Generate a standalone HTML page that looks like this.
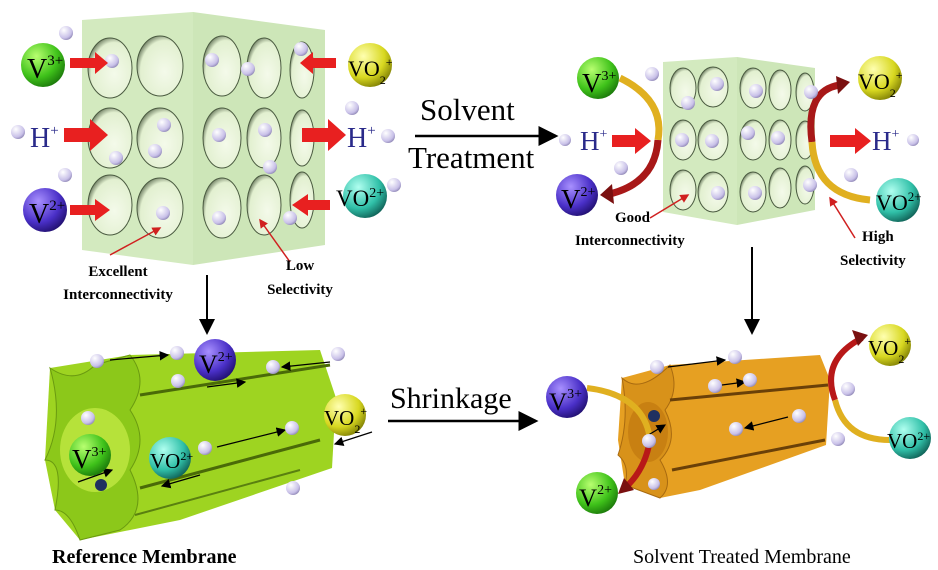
<!DOCTYPE html><html><head><style>body{margin:0;background:#fff}svg{display:block}</style></head><body>
<svg width="938" height="570" viewBox="0 0 938 570" xmlns="http://www.w3.org/2000/svg" font-family="Liberation Serif, serif">
<defs>
<radialGradient id="g" cx=".35" cy=".3" r=".8"><stop offset="0" stop-color="#b8ff70"/><stop offset=".6" stop-color="#3fc21a"/><stop offset="1" stop-color="#156b08"/></radialGradient>
<radialGradient id="y" cx=".35" cy=".3" r=".8"><stop offset="0" stop-color="#ffffb0"/><stop offset=".6" stop-color="#d8d820"/><stop offset="1" stop-color="#707000"/></radialGradient>
<radialGradient id="p" cx=".35" cy=".3" r=".8"><stop offset="0" stop-color="#a890ff"/><stop offset=".6" stop-color="#4a30c8"/><stop offset="1" stop-color="#1a0a60"/></radialGradient>
<radialGradient id="t" cx=".35" cy=".3" r=".8"><stop offset="0" stop-color="#b0fff0"/><stop offset=".6" stop-color="#30c0a8"/><stop offset="1" stop-color="#0a5048"/></radialGradient>
<radialGradient id="s" cx=".35" cy=".3" r=".8"><stop offset="0" stop-color="#ffffff"/><stop offset=".7" stop-color="#c8c0e8"/><stop offset="1" stop-color="#8078a8"/></radialGradient>
<radialGradient id="h" cx=".6" cy=".6" r=".7"><stop offset="0" stop-color="#f4faea"/><stop offset=".75" stop-color="#e2f0d0"/><stop offset="1" stop-color="#3a4a30"/></radialGradient>
<marker id="ah" markerWidth="8" markerHeight="8" refX="7" refY="4" orient="auto"><path d="M0,0 L8,4 L0,8 Z" fill="#000"/></marker>
<marker id="rh" markerWidth="6" markerHeight="6" refX="5" refY="3" orient="auto"><path d="M0,0 L6,3 L0,6 Z" fill="#d02020"/></marker>
</defs>

<!-- top-left cube -->
<polygon points="82,20 193,12 193,265 82,250" fill="#d3eabf"/>
<polygon points="193,12 325,30 325,245 193,265" fill="#cde6b8"/>
<g fill="url(#h)" stroke="#4a5a40" stroke-width="1">
<ellipse cx="110" cy="68" rx="22" ry="30"/><ellipse cx="160" cy="66" rx="23" ry="30"/>
<ellipse cx="110" cy="138" rx="22" ry="30"/><ellipse cx="160" cy="138" rx="23" ry="30"/>
<ellipse cx="110" cy="205" rx="22" ry="30"/><ellipse cx="160" cy="208" rx="23" ry="30"/>
<ellipse cx="222" cy="66" rx="19" ry="30"/><ellipse cx="264" cy="68" rx="17" ry="30"/><ellipse cx="302" cy="70" rx="12" ry="28"/>
<ellipse cx="222" cy="138" rx="19" ry="30"/><ellipse cx="264" cy="138" rx="17" ry="30"/><ellipse cx="302" cy="138" rx="12" ry="28"/>
<ellipse cx="222" cy="208" rx="19" ry="30"/><ellipse cx="264" cy="205" rx="17" ry="30"/><ellipse cx="302" cy="200" rx="12" ry="28"/>
</g>
<g fill="url(#s)">
<circle cx="66" cy="33" r="7"/><circle cx="112" cy="61" r="7"/><circle cx="212" cy="60" r="7"/><circle cx="248" cy="69" r="7"/><circle cx="301" cy="49" r="7"/>
<circle cx="18" cy="132" r="7"/><circle cx="164" cy="125" r="7"/><circle cx="155" cy="151" r="7"/><circle cx="116" cy="158" r="7"/><circle cx="219" cy="135" r="7"/><circle cx="265" cy="130" r="7"/><circle cx="352" cy="108" r="7"/><circle cx="388" cy="136" r="7"/>
<circle cx="65" cy="175" r="7"/><circle cx="270" cy="167" r="7"/><circle cx="163" cy="213" r="7"/><circle cx="219" cy="218" r="7"/><circle cx="290" cy="218" r="7"/><circle cx="394" cy="185" r="7"/>
</g>
<g fill="#e82020">
<polygon points="70,58 95,58 95,52 108,63 95,74 95,68 70,68"/>
<polygon points="336,58 313,58 313,52 300,63 313,74 313,68 336,68"/>
<polygon points="64,128 90,128 90,119 108,135 90,151 90,142 64,142"/>
<polygon points="302,128 328,128 328,119 346,135 328,151 328,142 302,142"/>
<polygon points="70,205 95,205 95,199 110,210 95,221 95,215 70,215"/>
<polygon points="330,200 308,200 308,194 292,205 308,216 308,210 330,210"/>
</g>
<line x1="110" y1="255" x2="160" y2="228" stroke="#d02020" stroke-width="1.5" marker-end="url(#rh)"/>
<line x1="290" y1="262" x2="260" y2="220" stroke="#d02020" stroke-width="1.5" marker-end="url(#rh)"/>
<circle cx="43" cy="65" r="22" fill="url(#g)"/><text x="27" y="78" font-size="28">V<tspan font-size="15" dy="-13">3+</tspan></text>
<circle cx="370" cy="65" r="22" fill="url(#y)"/><text x="348" y="76" font-size="22">VO<tspan font-size="12" dy="8">2</tspan><tspan font-size="12" dy="-18">+</tspan></text>
<circle cx="45" cy="210" r="22" fill="url(#p)"/><text x="29" y="223" font-size="28">V<tspan font-size="15" dy="-13">2+</tspan></text>
<circle cx="365" cy="196" r="22" fill="url(#t)"/><text x="336" y="206" font-size="23">VO<tspan font-size="14" dy="-9">2+</tspan></text>
<text x="30" y="147" font-size="28" fill="#2a2a8a">H<tspan font-size="15" dy="-12">+</tspan></text>
<text x="347" y="147" font-size="28" fill="#2a2a8a">H<tspan font-size="15" dy="-12">+</tspan></text>
<g font-size="15" font-weight="bold" text-anchor="middle"><text x="118" y="276">Excellent</text><text x="118" y="299">Interconnectivity</text><text x="300" y="270">Low</text><text x="300" y="294">Selectivity</text></g>
<line x1="207" y1="275" x2="207" y2="333" stroke="#000" stroke-width="2" marker-end="url(#ah)"/>

<!-- Solvent Treatment -->
<text x="420" y="120" font-size="31">Solvent</text>
<text x="408" y="168" font-size="31">Treatment</text>
<line x1="415" y1="136" x2="556" y2="136" stroke="#000" stroke-width="2.5" marker-end="url(#ah)"/>

<!-- top-right cube -->
<polygon points="663,62 737,57 737,225 663,212" fill="#d3eabf"/>
<polygon points="737,57 815,68 815,210 737,225" fill="#cde6b8"/>
<g fill="url(#h)" stroke="#4a5a40" stroke-width="1">
<ellipse cx="683" cy="88" rx="13" ry="20"/><ellipse cx="713" cy="87" rx="15" ry="20"/>
<ellipse cx="683" cy="140" rx="13" ry="20"/><ellipse cx="713" cy="140" rx="15" ry="20"/>
<ellipse cx="683" cy="190" rx="13" ry="20"/><ellipse cx="713" cy="192" rx="15" ry="20"/>
<ellipse cx="753" cy="88" rx="13" ry="20"/><ellipse cx="780" cy="90" rx="11" ry="20"/><ellipse cx="805" cy="92" rx="9" ry="19"/>
<ellipse cx="753" cy="140" rx="13" ry="20"/><ellipse cx="780" cy="140" rx="11" ry="20"/><ellipse cx="805" cy="140" rx="9" ry="19"/>
<ellipse cx="753" cy="192" rx="13" ry="20"/><ellipse cx="780" cy="188" rx="11" ry="20"/><ellipse cx="805" cy="185" rx="9" ry="19"/>
</g>
<path d="M620,78 Q665,100 658,140" fill="none" stroke="#e0b020" stroke-width="7"/>
<path d="M658,140 Q655,185 605,195" fill="none" stroke="#a81818" stroke-width="7"/>
<polygon points="600,195 612,184 614,204" fill="#7a1010"/>
<path d="M812,142 Q805,90 840,85" fill="none" stroke="#a81818" stroke-width="7"/>
<polygon points="850,82 836,76 838,94" fill="#7a1010"/>
<path d="M812,142 Q815,195 870,200" fill="none" stroke="#e0b020" stroke-width="7"/>
<g fill="url(#s)">
<circle cx="652" cy="74" r="7"/><circle cx="717" cy="84" r="7"/><circle cx="688" cy="103" r="7"/><circle cx="756" cy="91" r="7"/><circle cx="811" cy="92" r="7"/>
<circle cx="565" cy="140" r="6"/><circle cx="682" cy="140" r="7"/><circle cx="712" cy="141" r="7"/><circle cx="748" cy="133" r="7"/><circle cx="778" cy="138" r="7"/><circle cx="913" cy="140" r="6"/>
<circle cx="621" cy="168" r="7"/><circle cx="851" cy="175" r="7"/><circle cx="718" cy="193" r="7"/><circle cx="755" cy="193" r="7"/><circle cx="810" cy="185" r="7"/>
</g>
<g fill="#e82020">
<polygon points="612,135 635,135 635,128 651,141 635,154 635,147 612,147"/>
<polygon points="830,135 855,135 855,128 871,141 855,154 855,147 830,147"/>
</g>
<line x1="650" y1="218" x2="688" y2="195" stroke="#d02020" stroke-width="1.5" marker-end="url(#rh)"/>
<line x1="855" y1="238" x2="830" y2="198" stroke="#d02020" stroke-width="1.5" marker-end="url(#rh)"/>
<circle cx="598" cy="78" r="21" fill="url(#g)"/><text x="582" y="92" font-size="27">V<tspan font-size="14" dy="-12">3+</tspan></text>
<circle cx="577" cy="195" r="21" fill="url(#p)"/><text x="561" y="208" font-size="27">V<tspan font-size="14" dy="-12">2+</tspan></text>
<circle cx="880" cy="78" r="22" fill="url(#y)"/><text x="858" y="89" font-size="22">VO<tspan font-size="12" dy="8">2</tspan><tspan font-size="12" dy="-18">+</tspan></text>
<circle cx="898" cy="200" r="22" fill="url(#t)"/><text x="876" y="210" font-size="22">VO<tspan font-size="13" dy="-9">2+</tspan></text>
<text x="580" y="150" font-size="27" fill="#2a2a8a">H<tspan font-size="14" dy="-12">+</tspan></text>
<text x="872" y="150" font-size="27" fill="#2a2a8a">H<tspan font-size="14" dy="-12">+</tspan></text>
<g font-size="15" font-weight="bold"><text x="615" y="222">Good</text><text x="575" y="245">Interconnectivity</text><text x="862" y="241">High</text><text x="840" y="265">Selectivity</text></g>
<line x1="752" y1="247" x2="752" y2="333" stroke="#000" stroke-width="2" marker-end="url(#ah)"/>

<!-- bottom-left green cylinder -->
<polygon points="50,368 130,355 320,350 336,398 332,468 180,520 80,540 55,510 45,460" fill="#9ed421"/>
<path d="M50,368 Q75,385 95,365 L130,355 Q150,380 130,410 Q150,440 130,470 Q150,510 120,530 L80,540 Q70,510 55,510 Q65,460 45,460 Q65,420 50,368 Z" fill="#8cc81a" stroke="#6a9a10"/>
<ellipse cx="95" cy="450" rx="35" ry="42" fill="#b6e23a"/>
<path d="M140,395 L330,365" stroke="#4a6a08" stroke-width="3"/>
<path d="M140,488 L320,440" stroke="#4a6a08" stroke-width="3"/>
<path d="M135,515 L300,470" stroke="#5a8010" stroke-width="2"/>
<g stroke="#000" stroke-width="1.2">
<line x1="110" y1="360" x2="168" y2="355" marker-end="url(#ah)"/><line x1="330" y1="362" x2="282" y2="367" marker-end="url(#ah)"/>
<line x1="207" y1="387" x2="245" y2="382" marker-end="url(#ah)"/><line x1="217" y1="447" x2="285" y2="430" marker-end="url(#ah)"/>
<line x1="200" y1="475" x2="162" y2="486" marker-end="url(#ah)"/><line x1="78" y1="482" x2="112" y2="470" marker-end="url(#ah)"/>
<line x1="372" y1="432" x2="335" y2="444" marker-end="url(#ah)"/>
</g>
<g fill="url(#s)"><circle cx="97" cy="361" r="7"/><circle cx="177" cy="353" r="7"/><circle cx="178" cy="381" r="7"/><circle cx="338" cy="354" r="7"/><circle cx="273" cy="367" r="7"/><circle cx="88" cy="418" r="7"/><circle cx="205" cy="448" r="7"/><circle cx="292" cy="428" r="7"/><circle cx="293" cy="488" r="7"/><circle cx="101" cy="485" r="6" fill="#203060"/></g>
<circle cx="215" cy="360" r="21" fill="url(#p)"/><text x="199" y="373" font-size="26">V<tspan font-size="14" dy="-12">2+</tspan></text>
<circle cx="345" cy="415" r="21" fill="url(#y)"/><text x="324" y="425" font-size="21">VO<tspan font-size="12" dy="8">2</tspan><tspan font-size="12" dy="-18">+</tspan></text>
<circle cx="90" cy="455" r="21" fill="url(#g)"/><text x="72" y="468" font-size="27">V<tspan font-size="14" dy="-12">3+</tspan></text>
<circle cx="170" cy="458" r="21" fill="url(#t)"/><text x="150" y="468" font-size="21">VO<tspan font-size="12" dy="-8">2+</tspan></text>

<!-- Shrinkage -->
<text x="390" y="408" font-size="30">Shrinkage</text>
<line x1="388" y1="421" x2="536" y2="421" stroke="#000" stroke-width="2.5" marker-end="url(#ah)"/>

<!-- bottom-right orange -->
<polygon points="622,378 670,365 820,355 830,380 826,445 700,490 660,498 625,485 618,440" fill="#e6a022"/>
<path d="M622,378 Q640,395 670,365 Q680,390 665,410 Q680,440 660,460 Q675,485 660,498 L625,485 Q630,465 618,455 Q630,420 622,378Z" fill="#d8921a" stroke="#a86a10"/>
<ellipse cx="648" cy="432" rx="20" ry="30" fill="#c88012"/>
<path d="M670,400 L828,385" stroke="#6a4008" stroke-width="3"/>
<path d="M672,470 L825,440" stroke="#6a4008" stroke-width="3"/>
<path d="M587,388 Q645,395 650,440" fill="none" stroke="#e0b020" stroke-width="6"/>
<path d="M650,440 Q645,470 625,488" fill="none" stroke="#b81818" stroke-width="6"/>
<polygon points="618,494 624,478 634,490" fill="#7a1010"/>
<path d="M835,400 Q820,360 862,338" fill="none" stroke="#b81818" stroke-width="6"/>
<polygon points="868,335 852,330 858,346" fill="#7a1010"/>
<path d="M835,400 Q845,440 890,440" fill="none" stroke="#e0b020" stroke-width="6"/>
<g stroke="#000" stroke-width="1.2">
<line x1="668" y1="367" x2="725" y2="360" marker-end="url(#ah)"/><line x1="722" y1="385" x2="745" y2="382" marker-end="url(#ah)"/>
<line x1="788" y1="417" x2="745" y2="428" marker-end="url(#ah)"/><line x1="645" y1="437" x2="665" y2="425" marker-end="url(#ah)"/>
</g>
<g fill="url(#s)"><circle cx="657" cy="367" r="7"/><circle cx="735" cy="357" r="7"/><circle cx="715" cy="386" r="7"/><circle cx="750" cy="380" r="7"/><circle cx="736" cy="429" r="7"/><circle cx="799" cy="416" r="7"/><circle cx="649" cy="441" r="7"/><circle cx="654" cy="484" r="6"/><circle cx="848" cy="389" r="7"/><circle cx="838" cy="439" r="7"/><circle cx="654" cy="416" r="6" fill="#203060"/></g>
<circle cx="567" cy="397" r="21" fill="url(#p)"/><text x="549" y="410" font-size="25">V<tspan font-size="14" dy="-12">3+</tspan></text>
<circle cx="597" cy="493" r="21" fill="url(#g)"/><text x="579" y="506" font-size="25">V<tspan font-size="14" dy="-12">2+</tspan></text>
<circle cx="890" cy="345" r="21" fill="url(#y)"/><text x="868" y="355" font-size="21">VO<tspan font-size="12" dy="8">2</tspan><tspan font-size="12" dy="-18">+</tspan></text>
<circle cx="910" cy="438" r="21" fill="url(#t)"/><text x="887" y="448" font-size="21">VO<tspan font-size="12" dy="-8">2+</tspan></text>

<text x="52" y="563" font-size="20" font-weight="bold">Reference Membrane</text>
<text x="633" y="563" font-size="20">Solvent Treated Membrane</text>
</svg>
</body></html>
